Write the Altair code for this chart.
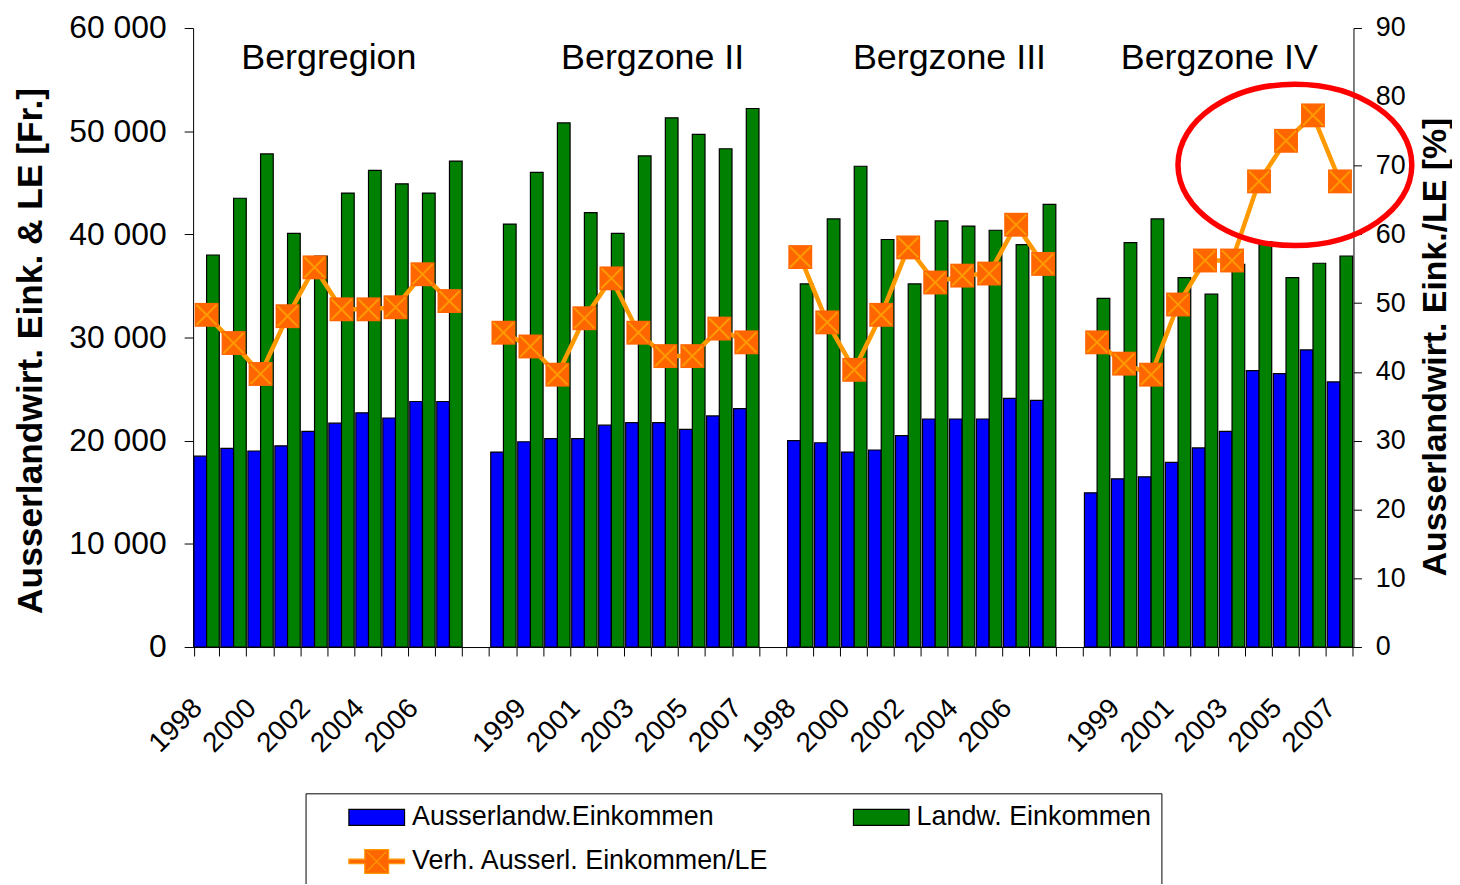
import altair as alt
import pandas as pd

# ---------------- data ----------------
years = list(range(1998, 2008))
groups = ["Bergregion", "Bergzone II", "Bergzone III", "Bergzone IV"]

ausserlandw = {  # Ausserlandw. Einkommen [Fr.]
    "Bergregion":   [18500, 19250, 19000, 19500, 20900, 21700, 22700, 22200, 23800, 23800],
    "Bergzone II":  [18900, 19900, 20200, 20200, 21500, 21750, 21750, 21100, 22400, 23100],
    "Bergzone III": [20000, 19800, 18900, 19100, 20500, 22100, 22100, 22100, 24100, 23900],
    "Bergzone IV":  [14950, 16300, 16500, 17900, 19300, 20900, 26800, 26500, 28800, 25700],
}
landw = {  # Landw. Einkommen [Fr.]
    "Bergregion":   [38000, 43500, 47800, 40100, 37900, 44000, 46200, 44900, 44000, 47100],
    "Bergzone II":  [41000, 46000, 50800, 42100, 40100, 47600, 51300, 49700, 48300, 52200],
    "Bergzone III": [35200, 41500, 46600, 39500, 35200, 41300, 40800, 40400, 39000, 42900],
    "Bergzone IV":  [33800, 39200, 41500, 35800, 34200, 37100, 39300, 35800, 37200, 37900],
}
verh = {  # Verh. Ausserl. Einkommen / LE [%]
    "Bergregion":   [48.3, 44.2, 39.7, 48.1, 55.2, 49.1, 49.1, 49.4, 54.2, 50.3],
    "Bergzone II":  [45.7, 43.7, 39.6, 47.8, 53.6, 45.7, 42.3, 42.3, 46.3, 44.3],
    "Bergzone III": [56.7, 47.2, 40.3, 48.3, 58.1, 53.0, 54.0, 54.3, 61.4, 55.7],
    "Bergzone IV":  [44.3, 41.2, 39.6, 49.8, 56.2, 56.2, 67.7, 73.6, 77.3, 67.7],
}
series_names = ["Ausserlandw.Einkommen", "Landw. Einkommen", "Verh. Ausserl. Einkommen/LE"]

# group headings: anchored at the start of this year's slot, at this left-axis value
title_anchor_years = [2003, 2004, 2004, 2003]
title_value = 57100

# red highlight ellipse (annotation)
ellipse_group = "Bergzone IV"
ellipse_year = 2005
ellipse_pct = 70.1

# ---------------- build tables ----------------
slots = []
for gi, g in enumerate(groups):
    for y in years:
        slots.append(f"{gi+1}|{y}")
    if gi < len(groups) - 1:
        slots.append(f"{gi+1}|gap")
labelled = [k for i, k in enumerate(slots) if i % 2 == 0 and not k.endswith("gap")]

def key(g, y):
    return f"{groups.index(g)+1}|{y}"

bar_rows, line_rows = [], []
for g in groups:
    for i, y in enumerate(years):
        bar_rows.append({"slot": key(g, y), "series": series_names[0], "value": ausserlandw[g][i]})
        bar_rows.append({"slot": key(g, y), "series": series_names[1], "value": landw[g][i]})
        line_rows.append({"slot": key(g, y), "group": g, "pct": verh[g][i]})
bar_df = pd.DataFrame(bar_rows)
line_df = pd.DataFrame(line_rows)
title_df = pd.DataFrame({"slot": [key(g, y) for g, y in zip(groups, title_anchor_years)],
                         "name": groups, "value": [title_value] * len(groups)})
ell_df = pd.DataFrame({"slot": [key(ellipse_group, ellipse_year)], "pct": [ellipse_pct]})
legend_df = pd.DataFrame({"series": series_names})

# ---------------- styles ----------------
FONT = "Liberation Sans"
RECT_PATH = "M-2.33,-0.67H2.33V0.67H-2.33Z"
V_PATH = ("M-2.33,-0.19H-1V-1H1V-0.19H2.33V0.19H1V1H-1V0.19H-2.33Z"
          "M-0.8,-0.8L0.8,0.8M0.8,-0.8L-0.8,0.8")
X_PATH = "M-0.85,-0.85L0.85,0.85M0.85,-0.85L-0.85,0.85"
ELL_PATH = ("M1,0C1,0.381,0.5523,0.69,0,0.69C-0.5523,0.69,-1,0.381,-1,0"
            "C-1,-0.381,-0.5523,-0.69,0,-0.69C0.5523,-0.69,1,-0.381,1,0Z")

x_scale = alt.Scale(domain=slots, paddingInner=0.06, paddingOuter=0.03)
left_scale = alt.Scale(domain=[0, 60000], nice=False, zero=True)
right_scale = alt.Scale(domain=[0, 90], nice=False, zero=True)
fill_scale = alt.Scale(domain=series_names, range=["#0000FF", "#008000", "#FF6600"])
stroke_scale = alt.Scale(domain=series_names, range=["#000000", "#000000", "#FF9900"])
shape_scale = alt.Scale(domain=series_names, range=[RECT_PATH, RECT_PATH, V_PATH])
leg = alt.Legend(title=" ", gridAlign="all", columns=2, direction="horizontal")

label_list = ",".join(f"'{k}'" for k in labelled)
x_axis = alt.Axis(
    title=None, labelAngle=315, labelAlign="right", labelBaseline="middle",
    labelFontSize=28, labelColor="black", labelPadding=48, labelOverlap=False,
    labelOffset=-9,
    labelExpr=f"indexof([{label_list}], datum.value) >= 0 ? slice(datum.value, 2) : ''",
    tickBand="extent", tickSize=9, tickColor="black", domainColor="black", grid=False,
)
left_axis = alt.Axis(
    values=[0, 10000, 20000, 30000, 40000, 50000, 60000],
    labelExpr="replace(format(datum.value, ','), ',', ' ')",
    labelFontSize=32, labelColor="black", labelPadding=18, tickSize=9,
    tickColor="black", domainColor="black", grid=False,
    title="Ausserlandwirt. Eink. & LE [Fr.]", titleFontSize=35.5, titleFontWeight="bold",
    titleColor="black", titleAngle=270, titleAlign="center", titleBaseline="middle",
    titleX=-163, titleY=324,
)
right_axis = alt.Axis(
    orient="right", values=list(range(0, 91, 10)),
    labelFontSize=27, labelColor="black", labelPadding=14, tickSize=8,
    tickColor="black", domainColor="black", grid=False,
    title="Ausserlandwirt. Eink./LE [%]", titleFontSize=34, titleFontWeight="bold",
    titleColor="black", titleAngle=270, titleAlign="center", titleBaseline="middle",
    titleX=82, titleY=320,
)

X = lambda **kw: alt.X("slot:N", scale=x_scale, axis=x_axis, **kw)

bars = alt.Chart(bar_df).mark_bar(strokeWidth=1.2, opacity=1).encode(
    x=X(),
    xOffset=alt.XOffset("series:N", scale=alt.Scale(domain=series_names[:2], paddingInner=0, paddingOuter=0)),
    y=alt.Y("value:Q", scale=left_scale, axis=left_axis, stack=None),
    fill=alt.Fill("series:N", scale=fill_scale, legend=leg),
    stroke=alt.Stroke("series:N", scale=stroke_scale, legend=leg),
)
titles = alt.Chart(title_df).mark_text(fontSize=36, align="center", baseline="middle", color="black").encode(
    x=X(bandPosition=0),
    y=alt.Y("value:Q", scale=left_scale, axis=left_axis),
    text="name:N",
)

line = alt.Chart(line_df).mark_line(color="#FF9900", strokeWidth=4.5, opacity=1).encode(
    x=X(), y=alt.Y("pct:Q", scale=right_scale, axis=right_axis), detail="group:N",
)
squares = alt.Chart(line_df).mark_point(shape="square", size=576, filled=True, color="#FF6600",
                                        opacity=1, strokeWidth=0).encode(
    x=X(), y=alt.Y("pct:Q", scale=right_scale, axis=right_axis),
)
crosses = alt.Chart(line_df).mark_point(shape=X_PATH, size=576, filled=False, color="#FF9900",
                                        opacity=1, strokeWidth=2).encode(
    x=X(), y=alt.Y("pct:Q", scale=right_scale, axis=right_axis),
)
ellipse = alt.Chart(ell_df).mark_point(shape=ELL_PATH, size=55225, filled=False, color="#FF0000",
                                       opacity=1, strokeWidth=5.5).encode(
    x=X(bandPosition=0.85), y=alt.Y("pct:Q", scale=right_scale, axis=right_axis),
)
legend_layer = alt.Chart(legend_df).transform_filter("false").mark_point(filled=True, opacity=1).encode(
    fill=alt.Fill("series:N", scale=fill_scale, legend=leg),
    stroke=alt.Stroke("series:N", scale=stroke_scale, legend=leg),
    shape=alt.Shape("series:N", scale=shape_scale, legend=leg),
)

left = alt.layer(bars, titles)
right = alt.layer(line, squares, crosses, ellipse, legend_layer)

chart = alt.layer(left, right).resolve_scale(y="independent").properties(
    width=1166, height=622,
    padding={"left": 186, "top": 18, "right": 99, "bottom": 236},
    autosize=alt.AutoSizeParams(type="none"),
).configure(font=FONT).configure_view(stroke=None).configure_legend(
    orient="none", legendX=113, legendY=769, columns=2, direction="horizontal", gridAlign="all",
    columnPadding=82, rowPadding=16, padding=10, strokeColor="black", fillColor="white",
    symbolSize=576, symbolStrokeWidth=1.2, symbolOffset=16, labelOffset=22,
    labelFontSize=27, labelColor="black", labelLimit=700,
    titleOrient="left", titlePadding=32, titleFontSize=1,
)

chart.save("out.html", embed_options={"renderer": "svg", "actions": False})
